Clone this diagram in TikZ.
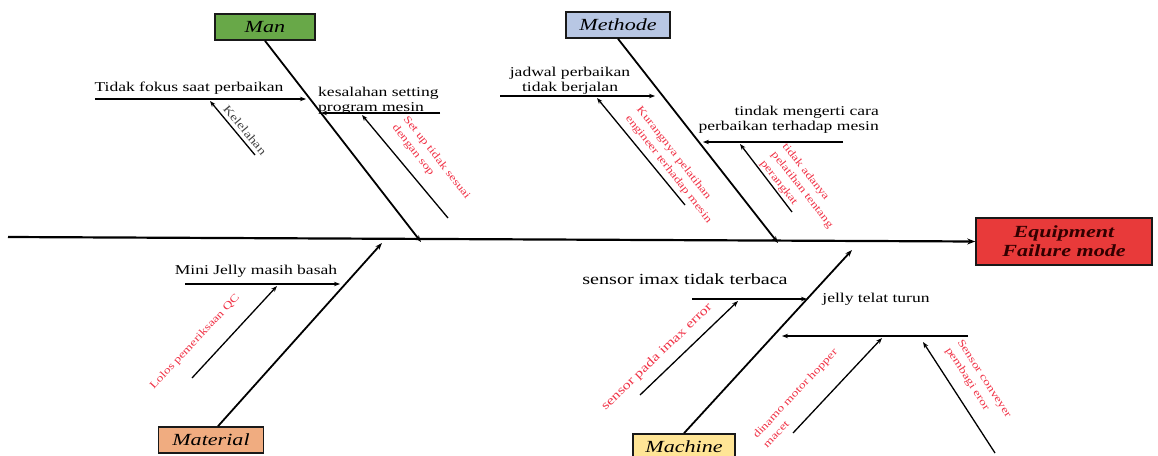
\documentclass[tikz,border=0pt]{standalone}
\usepackage{fontspec}
\setmainfont{Liberation Serif}[FakeStretch=1.3]
\usetikzlibrary{arrows.meta}
\definecolor{manfill}{RGB}{104,168,72}
\definecolor{methodefill}{RGB}{184,199,228}
\definecolor{materialfill}{RGB}{240,172,128}
\definecolor{machinefill}{RGB}{255,229,150}
\definecolor{effectfill}{RGB}{232,58,58}
\definecolor{notered}{RGB}{240,50,70}

\begin{document}
\begin{tikzpicture}[x=1pt,y=1pt,yscale=-1,
  catbox/.style={draw={rgb,255:red,25;green,25;blue,25},line width=1.6pt,minimum height=26pt,inner sep=2pt,font=\fontsize{17}{19}\selectfont\itshape},
  bone/.style={line width=1.8pt,-{Stealth[length=7pt,width=5pt]}},
  twig/.style={line width=1.3pt,-{Stealth[length=6pt,width=4.5pt]}},
  cause/.style={font=\fontsize{13.5}{15}\selectfont,inner sep=0pt},
  note/.style={text=notered,font=\fontsize{10.5}{14}\selectfont,inner sep=0pt,align=left}]
\useasboundingbox (0,0) rectangle (1158,455);

%Shape: Rectangle [categories and effect]
\node [catbox,fill=manfill,minimum width=100pt] (man) at (265,27) {Man};
\node [catbox,fill=methodefill,minimum width=104pt] (methode) at (618,25) {Methode};
\node [catbox,fill=materialfill,minimum width=105pt] (material) at (211,440) {Material};
\node [catbox,fill=machinefill,minimum width=102pt] (machine) at (684,447) {Machine};
\node [catbox,fill=effectfill,minimum width=176pt,minimum height=47pt,align=center,text={rgb,255:red,50;green,0;blue,0},font=\fontsize{17}{19}\selectfont\bfseries\itshape] (effect) at (1064,241.5) {Equipment\\Failure mode};

%Coordinates
\coordinate (tail) at (8,237);
\coordinate (manhit) at (421,242);
\coordinate (methit) at (778,243);
\coordinate (mathit) at (382,243);
\coordinate (machit) at (852,250);
\coordinate (fokusL) at (95,99);   \coordinate (fokusR) at (306,99);
\coordinate (kelB) at (255,155);   \coordinate (kelT) at (210,101);
\coordinate (kesR) at (440,113);   \coordinate (kesL) at (321,113);
\coordinate (setB) at (448,218);   \coordinate (setT) at (362,115);
\coordinate (jadL) at (500,96);    \coordinate (jadR) at (655,96);
\coordinate (kurB) at (685,205);   \coordinate (kurT) at (597,98);
\coordinate (tinR) at (843,142);   \coordinate (tinL) at (703,142);
\coordinate (adaB) at (792,212);   \coordinate (adaT) at (740,144);
\coordinate (miniL) at (185,284);  \coordinate (miniR) at (340,284);
\coordinate (lolB) at (192,378);   \coordinate (lolT) at (277,286);
\coordinate (imaxL) at (692,299);  \coordinate (imaxR) at (807,299);
\coordinate (ierB) at (640,395);   \coordinate (ierT) at (738,301);
\coordinate (telR) at (968,336);   \coordinate (telL) at (782,336);
\coordinate (dinB) at (793,433);   \coordinate (dinT) at (882,338);
\coordinate (conB) at (995,453);   \coordinate (conT) at (923,342);

%Straight Lines [spine and bones]
\draw [line width=2.2pt,-{Stealth[length=8pt,width=6pt]}] (tail) -- (effect.west);
\draw [bone] (man.south) -- (manhit);
\draw [bone] (methode.south) -- (methit);
\draw [bone] ([xshift=7pt]material.north) -- (mathit);
\draw [bone] (machine.north) -- (machit);

%Straight Lines [Man]
\draw [twig] (fokusL) -- (fokusR);
\draw [twig] (kelB) -- (kelT);
\draw [twig] (kesR) -- (kesL);
\draw [twig] (setB) -- (setT);
\node [cause] (fokus) at (189,88) {Tidak fokus saat perbaikan};
\node [note,text={rgb,255:red,70;green,70;blue,70},font=\fontsize{11.5}{13}\selectfont,rotate=-50] (kelelahan) at (245,130) {Kelelahan};
\node [cause,anchor=west,align=left] (kesalahan) at (318,101) {kesalahan setting\\program mesin};
\node [note,rotate=-52] (setup) at (431,162) {Set up tidak sesuai\\dengan sop};

%Straight Lines [Methode]
\draw [twig] (jadL) -- (jadR);
\draw [twig] (kurB) -- (kurT);
\draw [twig] (tinR) -- (tinL);
\draw [twig] (adaB) -- (adaT);
\node [cause,align=center] (jadwal) at (570,81) {jadwal perbaikan\\tidak berjalan};
\node [note,rotate=-52] (kurang) at (674,165) {Kurangnya pelatihan\\engineer terhadap mesin};
\node [cause,anchor=east,align=right] (tindak) at (879,120) {tindak mengerti cara\\perbaikan terhadap mesin};
\node [note,rotate=-52] (adanya) at (802,190) {tidak adanya\\pelatihan tentang\\perangkat};

%Straight Lines [Material]
\draw [twig] (miniL) -- (miniR);
\draw [twig] (lolB) -- (lolT);
\node [cause] (mini) at (256,271) {Mini Jelly masih basah};
\node [note,rotate=47] (lolos) at (195,342) {Lolos pemeriksaan QC};

%Straight Lines [Machine]
\draw [twig] (imaxL) -- (imaxR);
\draw [twig] (ierB) -- (ierT);
\draw [twig] (telR) -- (telL);
\draw [twig] (dinB) -- (dinT);
\draw [twig] (conB) -- (conT);
\node [cause,font=\fontsize{15.5}{17}\selectfont] (imax) at (685,279) {sensor imax tidak terbaca};
\node [note,font=\fontsize{12.5}{14}\selectfont,rotate=44] (imaxerr) at (657,357) {sensor pada imax error};
\node [cause] (telat) at (876,299) {jelly telat turun};
\node [note,rotate=47] (dinamo) at (800,398) {dinamo motor hopper\\macet};
\node [note,rotate=-57] (conveyer) at (978,383) {Sensor conveyer\\pembagi eror};
\end{tikzpicture}
\end{document}
